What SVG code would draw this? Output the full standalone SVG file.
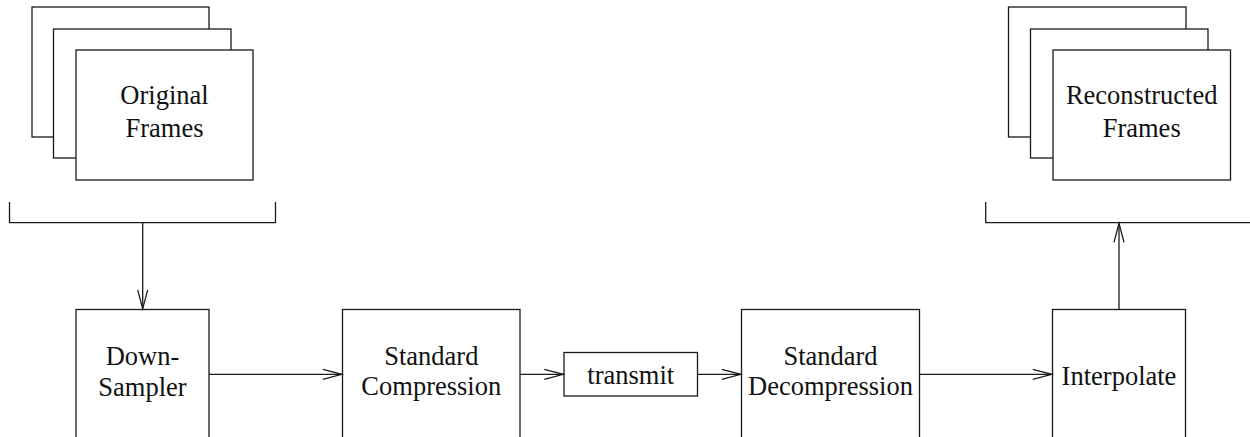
<svg xmlns="http://www.w3.org/2000/svg" width="1250" height="437" viewBox="0 0 1250 437">
<style>
.b{fill:#fff;stroke:#1a1a1a;stroke-width:1.3}
.l{fill:none;stroke:#1a1a1a;stroke-width:1.3}
text{font-family:"Liberation Serif","Times New Roman",serif;font-size:26.5px;fill:#111;text-anchor:middle}
</style>
<defs>
<marker id="ah" markerUnits="userSpaceOnUse" markerWidth="24" markerHeight="14" refX="20" refY="7" orient="auto">
<path d="M1,2 L20,7 L1,12" fill="none" stroke="#1a1a1a" stroke-width="1.3"/>
</marker>
</defs>
<rect width="1250" height="437" fill="#fff"/>
<g id="original-frames">
<rect class="b" x="32" y="7" width="177" height="130"/>
<rect class="b" x="53.5" y="29" width="177.5" height="129"/>
<rect class="b" x="76" y="50" width="177" height="130"/>
<text x="164.5" y="104">Original</text>
<text x="164.5" y="136.5">Frames</text>
</g>
<g id="reconstructed-frames">
<rect class="b" x="1008.5" y="7" width="177.5" height="130"/>
<rect class="b" x="1030.5" y="29" width="177.5" height="129"/>
<rect class="b" x="1053" y="50" width="177.5" height="130"/>
<text x="1141.7" y="104">Reconstructed</text>
<text x="1141.7" y="136.5">Frames</text>
</g>
<g id="down-sampler">
<rect class="b" x="76" y="309.5" width="133" height="150"/>
<text x="142.5" y="365">Down-</text>
<text x="142.5" y="396">Sampler</text>
</g>
<g id="standard-compression">
<rect class="b" x="342.5" y="309.5" width="177.5" height="150"/>
<text x="431.3" y="364.5">Standard</text>
<text x="431.3" y="395">Compression</text>
</g>
<g id="transmit">
<rect class="b" x="564" y="352.5" width="133.5" height="43.5"/>
<text x="630.7" y="384.3">transmit</text>
</g>
<g id="standard-decompression">
<rect class="b" x="741.5" y="309.5" width="178" height="150"/>
<text x="830.5" y="364.5">Standard</text>
<text x="830.5" y="395">Decompression</text>
</g>
<g id="interpolate">
<rect class="b" x="1052.5" y="309.5" width="133" height="150"/>
<text x="1119" y="385">Interpolate</text>
</g>
<g id="connectors">
<path class="l" d="M9.5,202 V222.7 H275.5 V202"/>
<path class="l" d="M985.7,202 V222.7 H1252"/>
<line class="l" x1="142.7" y1="222.7" x2="142.7" y2="308.8" marker-end="url(#ah)"/>
<line class="l" x1="209" y1="374.3" x2="341.8" y2="374.3" marker-end="url(#ah)"/>
<line class="l" x1="520" y1="374.3" x2="563.3" y2="374.3" marker-end="url(#ah)"/>
<line class="l" x1="697.5" y1="374.3" x2="740.8" y2="374.3" marker-end="url(#ah)"/>
<line class="l" x1="919.5" y1="374.3" x2="1051.8" y2="374.3" marker-end="url(#ah)"/>
<line class="l" x1="1119" y1="309.5" x2="1119" y2="223.4" marker-end="url(#ah)"/>
</g>
</svg>
